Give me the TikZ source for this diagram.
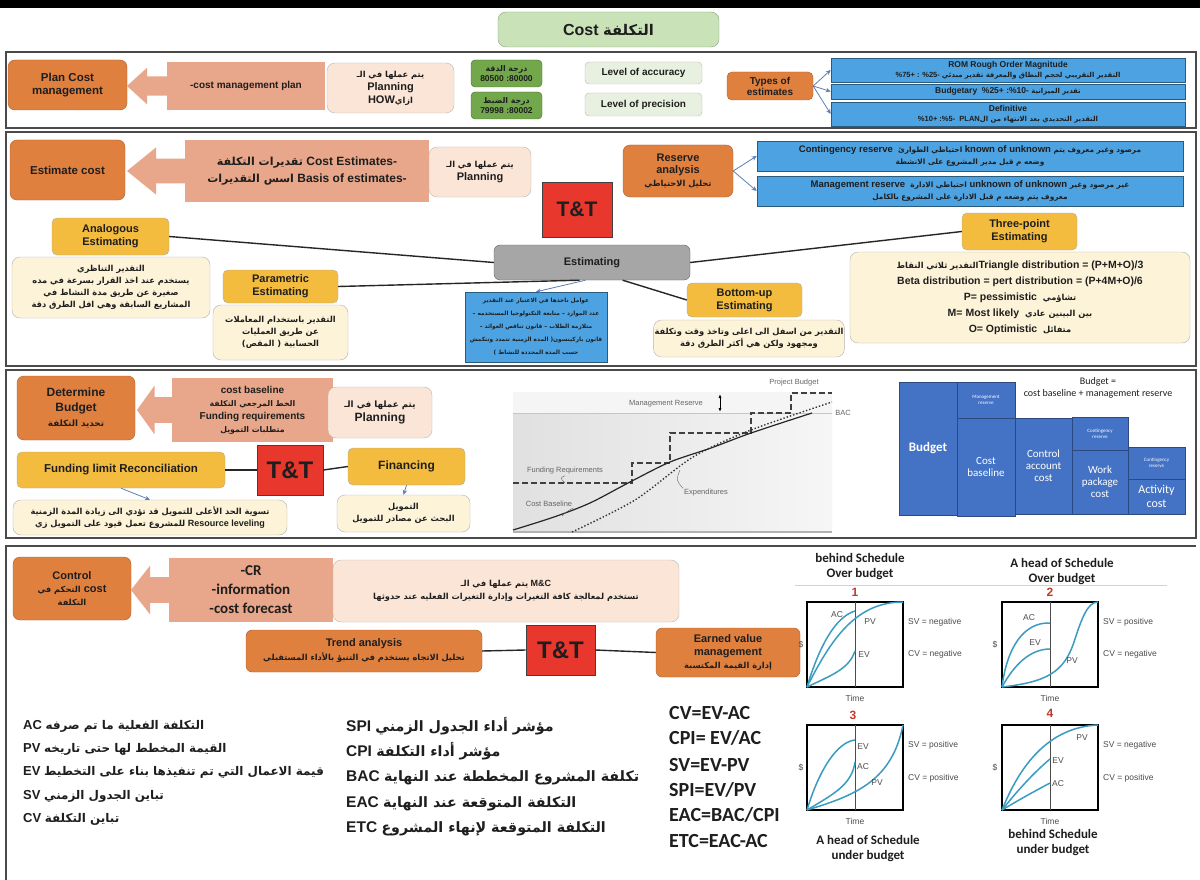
\documentclass[tikz,border=0pt]{standalone}
\usepackage{fontspec}
\setmainfont{Liberation Sans}
\newfontfamily\arabicfont[Script=Arabic,Scale=0.92]{DejaVu Sans}
\newfontfamily\calibri{Carlito}
\TeXXeTstate=1
\usetikzlibrary{arrows.meta}
\definecolor{ink}{HTML}{1E1E1E}
\definecolor{frame}{HTML}{4A4A4A}
\definecolor{sage}{HTML}{C9E2B8}
\definecolor{orng}{HTML}{E0803F}
\definecolor{salmon}{HTML}{E8A78A}
\definecolor{blush}{HTML}{FBE5D6}
\definecolor{leaf}{HTML}{72A74B}
\definecolor{mint}{HTML}{E8F1E0}
\definecolor{sky}{HTML}{4DA3E2}
\definecolor{gold}{HTML}{F3BC3E}
\definecolor{cream}{HTML}{FDF3D8}
\definecolor{ttred}{HTML}{E8372C}
\definecolor{stone}{HTML}{A6A6A6}
\definecolor{royal}{HTML}{4472C4}
\definecolor{teal}{HTML}{3A9CC0}
\definecolor{steel}{HTML}{5B7FB8}
\definecolor{numred}{HTML}{C0392B}
\newcommand{\artx}[1]{{\arabicfont\beginR#1\endR}}
\newcommand{\fsz}[2]{\fontsize{#1}{#2}\selectfont}
% arrow head left of a salmon output box: tip x, box left x, mid y, box height
\newcommand{\tiphead}[4]{%
  \fill[salmon] ({#2+1},{#3-0.2*#4}) -- ({(#1+#2)/2},{#3-0.2*#4}) -- ({(#1+#2)/2},{#3-0.38*#4})
    -- (#1,#3) -- ({(#1+#2)/2},{#3+0.38*#4}) -- ({(#1+#2)/2},{#3+0.2*#4}) -- ({#2+1},{#3+0.2*#4}) -- cycle;}
\tikzset{
  every node/.style={text=ink,inner sep=1pt,align=center,font=\fsz{10}{12}\bfseries},
  sect/.style={draw=frame,line width=1.2pt},
  sz/.style 2 args={minimum width=#1,minimum height=#2},
  titlebox/.style={fill=sage,draw=sage!70!black,rounded corners=8pt},
  orangebox/.style={fill=orng,draw=orng!75!black,rounded corners=7pt},
  tipbody/.style={fill=salmon},
  pinkbox/.style={fill=blush,draw=gray!55,rounded corners=8pt},
  greenbox/.style={fill=leaf,draw=leaf!65!black,rounded corners=4pt,font=\fsz{8.5}{10}\bfseries},
  lvlbox/.style={fill=mint,draw=gray!55,rounded corners=4pt,font=\fsz{10}{12}\bfseries},
  skybox/.style={fill=sky,draw=sky!55!black,line width=.6pt,font=\fsz{8.5}{10}\bfseries},
  yelbox/.style={fill=gold,draw=gray!65,rounded corners=5pt,font=\fsz{11}{13}\bfseries},
  creambox/.style={fill=cream,draw=gray!60,rounded corners=8pt,font=\fsz{9}{12}\bfseries},
  ttbox/.style={fill=ttred,draw=black!75,line width=.8pt,font=\fsz{21}{24}\bfseries},
  link/.style={draw=black!85,line width=1.4pt},
  pointer/.style={-{Stealth[length=5pt,width=4.5pt]},draw=steel,line width=.8pt},
  blk/.style={fill=royal,draw=royal!65!black,line width=.6pt,text=white,font=\calibri\fsz{11}{12}},
  curve/.style={draw=teal,line width=1.5pt},
  plotframe/.style={draw=black,line width=1.8pt},
  plotlbl/.style={font=\fsz{8.5}{10},text=black!70},
  chartlbl/.style={font=\fsz{7.5}{9},text=black!60},
  sheet/.style={font=\calibri\fsz{20}{22}\bfseries},
  caption/.style={font=\calibri\fsz{13}{15}\bfseries},
  numlbl/.style={font=\fsz{12}{14}\bfseries,text=numred},
  rowtxt/.style={anchor=west,font=\fsz{13}{15}\bfseries},
  rowbig/.style={anchor=west,font=\fsz{15.5}{17}\bfseries}
}
\begin{document}
\begin{tikzpicture}[x=1pt,y=-1pt]
\useasboundingbox (0,0) rectangle (1200,880);
\fill[white] (0,0) rectangle (1200,880);
\fill[black] (0,0) rectangle (1200,8);
\node[titlebox,sz={221}{35},font=\fsz{16}{19}\bfseries] (title) at (608.5,29.5) {Cost \artx{التكلفة}};

% frames
\draw[sect] (6,52) rectangle (1196,128);
\draw[sect] (6,132) rectangle (1196,366);
\draw[sect] (6,370) rectangle (1196,538);
\draw[sect] (6,880) -- (6,546) -- (1196,546);

% plan cost management
\node[orangebox,sz={119}{50},font=\fsz{11.5}{13}\bfseries] (plan) at (67.5,85) {Plan Cost\\management};
\node[tipbody,sz={158}{48}] (cmp) at (246,86) {-cost management plan};
\tiphead{127}{167}{86}{48}
\node[pinkbox,sz={127}{50},font=\fsz{11}{13}\bfseries] (how) at (390.5,88)
  {{\fsz{9}{11}\artx{يتم عملها في الـ}}\\Planning\\HOW{\fsz{9}{11}\artx{ازاي}}};
\node[greenbox,sz={71}{27}] (acc) at (506.5,73.5) {\artx{درجة الدقة}\\80500 :80000};
\node[greenbox,sz={71}{27}] (prec) at (506.5,105.5) {\artx{درجة الضبط}\\79998 :80002};
\node[lvlbox,sz={117}{22}] (lacc) at (643.5,73) {Level of accuracy};
\node[lvlbox,sz={117}{23}] (lprec) at (643.5,104.5) {Level of precision};
\node[orangebox,sz={86}{28},rounded corners=5pt,font=\fsz{10}{11}\bfseries] (types) at (770,86) {Types of\\estimates};
\node[skybox,sz={354}{24}] (rom) at (1008,70)
  {ROM Rough Order Magnitude\\{\fsz{7.5}{9}\%75+ : \%25- \artx{التقدير التقريبي لحجم النطاق والمعرفة تقدير مبدئي}}};
\node[skybox,sz={354}{15}] (budg) at (1008,91.5) {Budgetary\ \ \%25+ :\%10- {\fsz{7.5}{9}\artx{تقدير الميزانية}}};
\node[skybox,sz={354}{24}] (defin) at (1008,114)
  {Definitive\\{\fsz{7.5}{9}\%10+ :\%5-\ \ PLAN\artx{التقدير التحديدي بعد الانتهاء من ال}}};
\draw[pointer] (types.east) -- (rom.west);
\draw[pointer] (types.east) -- (budg.west);
\draw[pointer] (types.east) -- (defin.west);

% estimate cost
\node[orangebox,sz={115}{60},font=\fsz{11.5}{13}\bfseries] (estc) at (67.5,170) {Estimate cost};
\node[tipbody,sz={244}{62},font=\fsz{12}{17}\bfseries] (ests) at (307,171)
  {\artx{تقديرات التكلفة} Cost Estimates-\\\artx{اسس التقديرات} Basis of estimates-};
\tiphead{127}{185}{171}{62}
\node[pinkbox,sz={102}{50},font=\fsz{11}{13}\bfseries] (plng2) at (480,172) {{\fsz{9}{11}\artx{يتم عملها في الـ}}\\Planning};
\node[ttbox,sz={70}{55}] (tt2) at (577,209.5) {T\&T};
\node[orangebox,sz={110}{52},font=\fsz{11}{12.5}\bfseries] (reserve) at (678,171)
  {Reserve\\analysis\\{\fsz{9}{11}\artx{تحليل الاحتياطي}}};
\node[skybox,sz={426}{30},font=\fsz{9.5}{12}\bfseries] (cont) at (970,156)
  {Contingency reserve\ \ {\fsz{8}{10}\artx{احتياطي الطوارئ}} known of unknown {\fsz{8}{10}\artx{مرصود وغير معروف يتم}}\\{\fsz{8}{10}\artx{وضعه م قبل مدير المشروع على الانشطة}}};
\node[skybox,sz={426}{30},font=\fsz{9.5}{12}\bfseries] (mgmt) at (970,191)
  {Management reserve\ \ {\fsz{8}{10}\artx{احتياطي الادارة}} unknown of unknown {\fsz{8}{10}\artx{غير مرصود وغير}}\\{\fsz{8}{10}\artx{معروف يتم وضعه م قبل الادارة على المشروع بالكامل}}};
\draw[pointer] (reserve.east) -- (cont.west);
\draw[pointer] (reserve.east) -- (mgmt.west);

\node[yelbox,sz={117}{37}] (analog) at (110.5,236.5) {Analogous\\Estimating};
\node[creambox,sz={198}{61}] (analogtxt) at (111,287.5)
  {\artx{التقدير التناظري}\\\artx{يستخدم عند اخذ القرار بسرعة في مده}\\\artx{صغيرة عن طريق مدة النشاط في}\\\artx{المشاريع السابقة وهي اقل الطرق دقة}};
\node[fill=stone,draw=gray!80!black,rounded corners=6pt,sz={196}{35},font=\fsz{11}{13}\bfseries] (estim) at (592,262.5) {Estimating};
\node[yelbox,sz={115}{33}] (param) at (280.5,286.5) {Parametric\\Estimating};
\node[creambox,sz={135}{55}] (paramtxt) at (280.5,332.5)
  {\artx{التقدير باستخدام المعاملات}\\\artx{عن طريق العمليات}\\\artx{الحسابية ( المقص)}};
\node[fill=sky,draw=sky!55!black,sz={142}{70},font=\fsz{6.3}{13}\bfseries] (factors) at (536,327)
  {\artx{عوامل ناخذها في الاعتبار عند التقدير}\\\artx{عدد الموارد – متابعة التكنولوجيا المستخدمه –}\\\artx{متلازمة الطلاب – قانون تناقص العوائد –}\\\artx{قانون باركينسون( المدة الزمنية تتمدد وتنكمش}\\\artx{حسب المدة المحددة للنشاط )}};
\node[yelbox,sz={115}{37}] (threept) at (1019.5,231.5) {Three-point\\Estimating};
\node[creambox,sz={340}{91},font=\fsz{10.5}{16}\bfseries] (threetxt) at (1020,297.5)
  {{\fsz{9}{11}\artx{التقدير ثلاثي النقاط}}Triangle distribution = (P+M+O)/3\\Beta distribution = pert distribution = (P+4M+O)/6\\P= pessimistic\ \ {\fsz{9}{11}\artx{تشاؤمي}}\\M= Most likely\ \ {\fsz{9}{11}\artx{بين البينين عادي}}\\O= Optimistic\ \ {\fsz{9}{11}\artx{متفائل}}};
\node[yelbox,sz={115}{34}] (bottomup) at (744.5,300) {Bottom-up\\Estimating};
\node[creambox,sz={182}{37}] (bottomuptxt) at (749,338.5)
  {\artx{التقدير من اسفل الى اعلى وتاخذ وقت وتكلفة}\\\artx{ومجهود ولكن هي أكثر الطرق دقة}};
\draw[link] (analog.east) -- (estim.west);
\draw[link] (estim.east) -- (threept.west);
\draw[link] (param.east) -- (estim.235);
\draw[link] (estim.330) -- (bottomup.west);
\draw[pointer] (estim.250) -- (factors.north);

% determine budget
\node[orangebox,sz={118}{64},font=\fsz{12}{15}\bfseries] (budget) at (76,408)
  {Determine\\Budget\\{\fsz{9.5}{11}\artx{تحديد التكلفة}}};
\node[tipbody,sz={161}{64},font=\fsz{10}{13}\bfseries] (baseline) at (252.5,410)
  {cost baseline\\{\fsz{8.5}{10}\artx{الخط المرجعي التكلفة}}\\Funding requirements\\{\fsz{8.5}{10}\artx{متطلبات التمويل}}};
\tiphead{137}{172}{410}{64}
\node[pinkbox,sz={104}{51},font=\fsz{12}{14}\bfseries] (plng3) at (380,412.5) {{\fsz{9.5}{11}\artx{يتم عملها في الـ}}\\Planning};
\node[yelbox,sz={208}{36},font=\fsz{11.5}{13}\bfseries] (fundlim) at (121,470) {Funding limit Reconciliation};
\node[ttbox,sz={66}{50},font=\fsz{24}{26}\bfseries] (tt3) at (290,470) {T\&T};
\node[yelbox,sz={117}{37},font=\fsz{12}{14}\bfseries] (financing) at (406.5,466.5) {Financing};
\node[creambox,sz={274}{35}] (fundtxt) at (150,517.5)
  {\artx{تسوية الحد الأعلى للتمويل قد تؤدي الى زيادة المدة الزمنية}\\\artx{للمشروع تعمل قيود على التمويل زي} Resource leveling};
\node[creambox,sz={133}{37}] (fintxt) at (403.5,513.5) {\artx{التمويل}\\\artx{البحث عن مصادر للتمويل}};
\draw[link] (fundlim.east) -- (tt3.west);
\draw[link] (tt3.east) -- (financing.west);
\draw[pointer] (fundlim.south) -- (fundtxt.north);
\draw[pointer] (financing.south) -- (fintxt.north);

% funding chart
\shade[left color=gray!24,right color=gray!7] (513,413) rectangle (832,532);
\fill[gray!8] (513,392) rectangle (832,413);
\draw[gray!45] (513,413) -- (832,413);
\draw[gray!60,line width=1.6pt] (513,532) -- (832,532);
\draw[black!75,line width=1.6pt,dash pattern=on 6pt off 3pt]
  (513,483) -- (632,483) -- (632,463) -- (670,463) -- (670,433) -- (751,433) -- (751,413) -- (791,413) -- (791,393) -- (832,393);
\draw[black!85,line width=1.2pt] plot[smooth] coordinates {(513,530) (554,517) (590,503) (630,482) (670,462) (711,448) (751,433) (812,413)};
\draw[black!80,line width=1.4pt,dotted] plot[smooth] coordinates {(572,532) (635,500) (693,457) (751,430) (832,402)};
\draw[{Latex[length=4pt]}-{Latex[length=4pt]},line width=1pt] (720,394) -- (720,412);
\node[chartlbl] (mrlbl) at (666,404) {Management Reserve};
\node[chartlbl] (pblbl) at (794,383) {Project Budget};
\node[chartlbl] (baclbl) at (843,413) {BAC};
\node[chartlbl] (frlbl) at (565,471) {Funding Requirements};
\node[chartlbl] (cblbl) at (549,504) {Cost Baseline};
\node[chartlbl] (exlbl) at (706,493) {Expenditures};
\draw[black!60] (frlbl.south) .. controls (560,478) .. (565,483);
\draw[black!60] (cblbl.south east) .. controls (566,512) .. (562,516);
\draw[black!60] (exlbl.north west) .. controls (676,480) .. (680,470);

% budget blocks
\node[blk,sz={58}{133},font=\calibri\fsz{13}{15}\bfseries] (bud) at (928,448.5) {Budget};
\node[blk,sz={58}{36},font=\calibri\fsz{5}{6}] (mres) at (986,400) {Management\\reserve};
\node[blk,sz={58}{98}] (cbase) at (986,467) {Cost\\baseline};
\node[blk,sz={57}{96}] (ctrl) at (1043.5,466) {Control\\account\\cost};
\node[blk,sz={56}{33},font=\calibri\fsz{5}{6}] (cres1) at (1100,433.5) {Contingency\\reserve};
\node[blk,sz={56}{64}] (wpkg) at (1100,482) {Work\\package\\cost};
\node[blk,sz={57}{32},font=\calibri\fsz{5}{6}] (cres2) at (1156.5,463) {Contingency\\reserve};
\node[blk,sz={57}{35},font=\calibri\fsz{12}{14}] (act) at (1156.5,496.5) {Activity\\cost};
\node[font=\calibri\fsz{10}{12}] (budeq) at (1098,388) {Budget =\\cost baseline + management reserve};

% control cost
\node[orangebox,sz={118}{63},font=\fsz{11}{13}\bfseries] (control) at (72,588.5)
  {Control\\{\fsz{9}{11}\artx{التحكم في}} cost\\{\fsz{9}{11}\artx{التكلفة}}};
\node[tipbody,sz={164}{64},font=\calibri\fsz{15}{19}\bfseries] (cr) at (251,590) {-CR\\-information\\-cost forecast};
\tiphead{131}{169}{590}{64}
\node[pinkbox,sz={346}{62},font=\fsz{9}{13}\bfseries] (mc) at (506,591)
  {\artx{يتم عملها في الـ} M\&C\\\artx{تستخدم لمعالجة كافة التغيرات وإدارة التغيرات الفعليه عند حدوثها}};
\node[orangebox,sz={236}{42},rounded corners=6pt,font=\fsz{11}{14}\bfseries] (trend) at (364,651)
  {Trend analysis\\{\fsz{9}{11}\artx{تحليل الاتجاه يستخدم في التنبؤ بالأداء المستقبلي}}};
\node[ttbox,sz={69}{50},font=\fsz{24}{26}\bfseries] (tt4) at (560.5,650) {T\&T};
\node[orangebox,sz={144}{49},rounded corners=6pt,font=\fsz{11}{13}\bfseries] (evm) at (728,652.5)
  {Earned value\\management\\{\fsz{9}{11}\artx{إدارة القيمة المكتسبة}}};
\draw[link] (trend.east) -- (tt4.west);
\draw[link] (tt4.east) -- (evm.west);

% terms
\node[rowtxt] (ac) at (22,726) {AC \artx{التكلفة الفعلية ما تم صرفه}};
\node[rowtxt] (pv) at (22,749) {PV \artx{القيمة المخطط لها حتى تاريخه}};
\node[rowtxt] (ev) at (22,772) {EV \artx{قيمة الاعمال التي تم تنفيذها بناء على التخطيط}};
\node[rowtxt] (sv) at (22,796) {SV \artx{تباين الجدول الزمني}};
\node[rowtxt] (cv) at (22,819) {CV \artx{تباين التكلفة}};
\node[rowbig] (spi) at (345,726) {SPI \artx{مؤشر أداء الجدول الزمني}};
\node[rowbig] (cpi) at (345,751) {CPI \artx{مؤشر أداء التكلفة}};
\node[rowbig] (bac) at (345,778) {BAC \artx{تكلفة المشروع المخططة عند النهاية}};
\node[rowbig] (eac) at (345,804) {EAC \artx{التكلفة المتوقعة عند النهاية}};
\node[rowbig] (etc) at (345,829) {ETC \artx{التكلفة المتوقعة لإنهاء المشروع}};
\node[sheet,anchor=west] (f1) at (668,713) {CV=EV-AC};
\node[sheet,anchor=west] (f2) at (668,738) {CPI= EV/AC};
\node[sheet,anchor=west] (f3) at (668,765) {SV=EV-PV};
\node[sheet,anchor=west] (f4) at (668,790) {SPI=EV/PV};
\node[sheet,anchor=west] (f5) at (668,815) {EAC=BAC/CPI};
\node[sheet,anchor=west] (f6) at (668,841) {ETC=EAC-AC};

% earned value plots
\node[caption] (cap1) at (860,567) {behind Schedule\\Over budget};
\node[caption] (cap2) at (1062,572) {A head of Schedule\\Over budget};
\draw[gray!35,line width=1pt] (795,585) -- (1167,585);
\node[numlbl] (n1) at (855,592) {1};
\node[numlbl] (n2) at (1050,592) {2};
\node[numlbl] (n3) at (853,715) {3};
\node[numlbl] (n4) at (1050,713) {4};
\begin{scope}[shift={(807,687)},y=1pt]
  \draw[plotframe] (0,0) rectangle (96,85);
  \draw[gray!60!black] (48,0) -- (48,85);
  \draw[curve] (0,0) .. controls (25,50) and (50,85) .. (96,85);
  \draw[curve] (0,0) .. controls (12,40) and (28,70) .. (48,76);
  \draw[curve] (0,0) .. controls (25,12) and (42,18) .. (48,36);
  \node[plotlbl] (p1ac) at (30,72) {AC};
  \node[plotlbl] (p1pv) at (63,65) {PV};
  \node[plotlbl] (p1ev) at (57,32) {EV};
\end{scope}
\begin{scope}[shift={(1002,687)},y=1pt]
  \draw[plotframe] (0,0) rectangle (96,85);
  \draw[gray!60!black] (48,0) -- (48,85);
  \draw[curve] (0,0) .. controls (5,40) and (22,65) .. (48,64);
  \draw[curve] (0,0) .. controls (12,22) and (28,38) .. (48,38);
  \draw[curve] (0,0) .. controls (45,5) and (62,15) .. (72,45) .. controls (80,70) and (86,85) .. (96,85);
  \node[plotlbl] (p2ac) at (27,69) {AC};
  \node[plotlbl] (p2ev) at (33,44) {EV};
  \node[plotlbl] (p2pv) at (70,26) {PV};
\end{scope}
\begin{scope}[shift={(807,810)},y=1pt]
  \draw[plotframe] (0,0) rectangle (96,85);
  \draw[gray!60!black] (48,0) -- (48,85);
  \draw[curve] (0,0) .. controls (12,40) and (30,68) .. (48,70);
  \draw[curve] (0,0) .. controls (25,15) and (45,25) .. (48,48);
  \draw[curve] (0,0) .. controls (50,15) and (85,30) .. (96,85);
  \node[plotlbl] (p3ev) at (56,63) {EV};
  \node[plotlbl] (p3ac) at (56,43) {AC};
  \node[plotlbl] (p3pv) at (70,27) {PV};
\end{scope}
\begin{scope}[shift={(1002,810)},y=1pt]
  \draw[plotframe] (0,0) rectangle (96,85);
  \draw[gray!60!black] (48,0) -- (48,85);
  \draw[curve] (0,0) .. controls (20,50) and (50,83) .. (96,85);
  \draw[curve] (0,0) .. controls (20,25) and (35,40) .. (48,51);
  \draw[curve] (0,0) .. controls (20,12) and (35,20) .. (48,27);
  \node[plotlbl] (p4pv) at (80,72) {PV};
  \node[plotlbl] (p4ev) at (56,49) {EV};
  \node[plotlbl] (p4ac) at (56,26) {AC};
\end{scope}
\node[plotlbl] (t1) at (855,698) {Time};
\node[plotlbl] (t2) at (1050,698) {Time};
\node[plotlbl] (t3) at (855,821) {Time};
\node[plotlbl] (t4) at (1050,821) {Time};
\node[plotlbl] (d1) at (801,645) {\$};
\node[plotlbl] (d2) at (995,645) {\$};
\node[plotlbl] (d3) at (801,768) {\$};
\node[plotlbl] (d4) at (995,768) {\$};
\node[plotlbl,anchor=west] (sv1) at (907,622) {SV = negative};
\node[plotlbl,anchor=west] (cv1) at (907,654) {CV = negative};
\node[plotlbl,anchor=west] (sv2) at (1102,622) {SV = positive};
\node[plotlbl,anchor=west] (cv2) at (1102,654) {CV = negative};
\node[plotlbl,anchor=west] (sv3) at (907,745) {SV = positive};
\node[plotlbl,anchor=west] (cv3) at (907,778) {CV = positive};
\node[plotlbl,anchor=west] (sv4) at (1102,745) {SV = negative};
\node[plotlbl,anchor=west] (cv4) at (1102,778) {CV = positive};
\node[caption] (cap3) at (868,849) {A head of Schedule\\under budget};
\node[caption] (cap4) at (1053,843) {behind Schedule\\under budget};
\end{tikzpicture}
\end{document}
